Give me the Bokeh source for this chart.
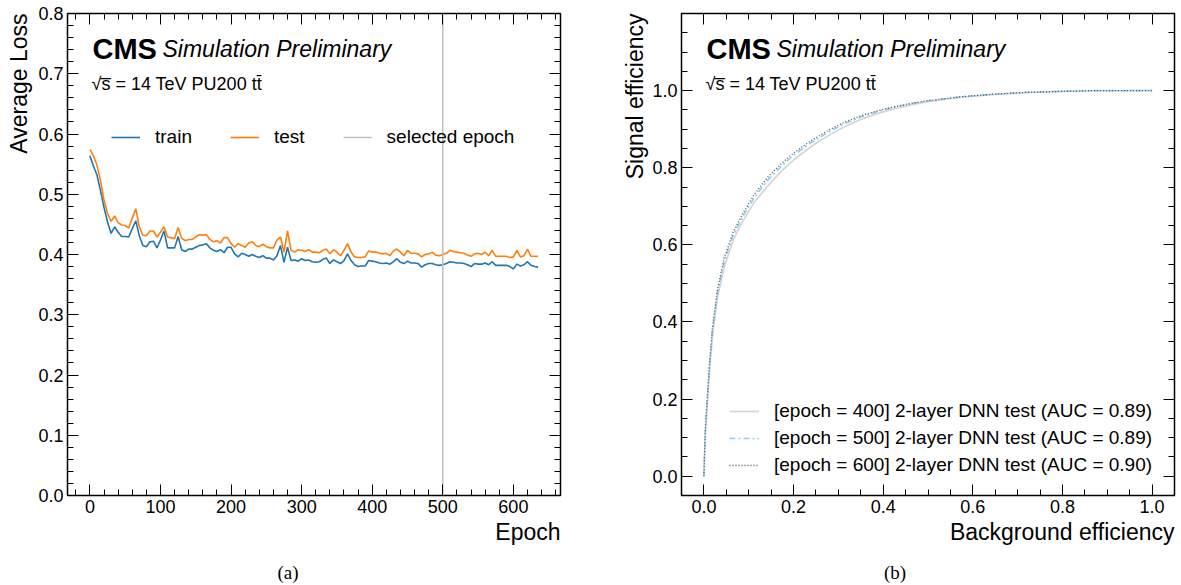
from bokeh.plotting import figure
from bokeh.models import (Range1d, LinearAxis, SingleIntervalTicker, PrintfTickFormatter,
                          CustomJSTickFormatter, Label, Legend, LegendItem, Div, Title)
from bokeh.layouts import row, column
from bokeh.embed import file_html
from bokeh.resources import INLINE

# ---------------- data: panel (a) ----------------
epochs = list(range(0, 640, 5))
train_loss = [
    0.564, 0.547, 0.532, 0.506, 0.478, 0.454, 0.435, 0.446, 0.437, 0.430,
    0.430, 0.429, 0.443, 0.456, 0.431, 0.415, 0.413, 0.421, 0.422, 0.411,
    0.424, 0.439, 0.411, 0.411, 0.411, 0.430, 0.408, 0.405, 0.409, 0.409,
    0.412, 0.415, 0.416, 0.418, 0.411, 0.407, 0.405, 0.408, 0.403, 0.412,
    0.412, 0.401, 0.396, 0.402, 0.400, 0.397, 0.400, 0.397, 0.395, 0.398,
    0.394, 0.394, 0.391, 0.398, 0.415, 0.387, 0.412, 0.390, 0.391, 0.389,
    0.393, 0.390, 0.391, 0.388, 0.387, 0.388, 0.392, 0.394, 0.385, 0.391,
    0.388, 0.385, 0.390, 0.401, 0.390, 0.383, 0.380, 0.381, 0.381, 0.390,
    0.389, 0.388, 0.386, 0.385, 0.386, 0.384, 0.388, 0.393, 0.387, 0.385,
    0.389, 0.386, 0.386, 0.385, 0.379, 0.383, 0.385, 0.385, 0.383, 0.382,
    0.383, 0.385, 0.388, 0.387, 0.386, 0.386, 0.385, 0.383, 0.380, 0.385,
    0.384, 0.384, 0.386, 0.383, 0.388, 0.382, 0.382, 0.382, 0.382, 0.380,
    0.376, 0.384, 0.381, 0.383, 0.388, 0.382, 0.380, 0.379,
]
test_loss = [
    0.574, 0.564, 0.548, 0.523, 0.490, 0.468, 0.455, 0.464, 0.453, 0.449,
    0.448, 0.444, 0.460, 0.476, 0.446, 0.432, 0.431, 0.439, 0.439, 0.429,
    0.437, 0.446, 0.429, 0.428, 0.426, 0.445, 0.427, 0.423, 0.425, 0.425,
    0.429, 0.433, 0.432, 0.433, 0.425, 0.421, 0.423, 0.419, 0.428, 0.428,
    0.418, 0.412, 0.418, 0.415, 0.412, 0.419, 0.421, 0.415, 0.413, 0.417,
    0.413, 0.411, 0.411, 0.424, 0.429, 0.404, 0.439, 0.407, 0.404, 0.408,
    0.407, 0.405, 0.408, 0.404, 0.404, 0.403, 0.407, 0.409, 0.401, 0.408,
    0.404, 0.398, 0.407, 0.418, 0.404, 0.396, 0.395, 0.395, 0.396, 0.406,
    0.404, 0.404, 0.402, 0.401, 0.402, 0.398, 0.406, 0.409, 0.404, 0.398,
    0.407, 0.402, 0.402, 0.401, 0.396, 0.400, 0.401, 0.404, 0.399, 0.398,
    0.400, 0.402, 0.407, 0.405, 0.404, 0.403, 0.402, 0.399, 0.397, 0.401,
    0.402, 0.400, 0.404, 0.398, 0.407, 0.397, 0.397, 0.397, 0.397, 0.395,
    0.396, 0.407, 0.396, 0.398, 0.409, 0.397, 0.397, 0.397,
]
selected_epoch = 500

# ---------------- data: panel (b) ----------------
bkg_eff = [0.0, 0.001, 0.003, 0.008, 0.013, 0.019, 0.030, 0.045, 0.065, 0.086,
           0.112, 0.142, 0.172, 0.202, 0.239, 0.276, 0.313, 0.351, 0.388, 0.425,
           0.462, 0.500, 0.537, 0.574, 0.648, 0.723, 0.797, 0.872, 1.0]
sig_eff_400 = [0.0, 0.033, 0.105, 0.190, 0.280, 0.360, 0.462, 0.540, 0.612, 0.660,
               0.710, 0.752, 0.790, 0.822, 0.855, 0.882, 0.906, 0.926, 0.941, 0.953,
               0.963, 0.971, 0.977, 0.983, 0.990, 0.995, 0.998, 0.9995, 1.0]
sig_eff_500 = [0.0, 0.037, 0.112, 0.205, 0.292, 0.376, 0.474, 0.556, 0.624, 0.672,
               0.722, 0.767, 0.803, 0.834, 0.865, 0.891, 0.914, 0.932, 0.946, 0.957,
               0.966, 0.973, 0.979, 0.984, 0.991, 0.9955, 0.998, 1.0, 1.0]
sig_eff_600 = [0.0, 0.040, 0.120, 0.213, 0.300, 0.386, 0.482, 0.565, 0.632, 0.680,
               0.730, 0.775, 0.810, 0.840, 0.870, 0.896, 0.918, 0.935, 0.948, 0.958,
               0.967, 0.974, 0.979, 0.984, 0.991, 0.9956, 0.998, 1.0, 1.0]
roc_labels = [
    "[epoch = 400] 2-layer DNN test (AUC = 0.89)",
    "[epoch = 500] 2-layer DNN test (AUC = 0.89)",
    "[epoch = 600] 2-layer DNN test (AUC = 0.90)",
]

SANS = "Liberation Sans"
SERIF = "Liberation Serif"


def style_axes(p, xint, xminor, yint, yminor, xfmt, yfmt, xlabel, ylabel, ystandoff):
    bottom = p.xaxis[0]
    left = p.yaxis[0]
    bottom.ticker = SingleIntervalTicker(interval=xint, num_minor_ticks=xminor)
    left.ticker = SingleIntervalTicker(interval=yint, num_minor_ticks=yminor)
    bottom.formatter = PrintfTickFormatter(format=xfmt)
    left.formatter = PrintfTickFormatter(format=yfmt)
    blank = CustomJSTickFormatter(code="return ''")
    top = LinearAxis(ticker=SingleIntervalTicker(interval=xint, num_minor_ticks=xminor),
                     formatter=blank, major_label_standoff=0)
    right = LinearAxis(ticker=SingleIntervalTicker(interval=yint, num_minor_ticks=yminor),
                       formatter=blank, major_label_standoff=0)
    p.add_layout(top, "above")
    p.add_layout(right, "right")
    for ax in (bottom, left, top, right):
        ax.axis_line_color = None
        ax.major_tick_in = 11
        ax.major_tick_out = 0
        ax.minor_tick_in = 6
        ax.minor_tick_out = 0
        ax.major_tick_line_color = "black"
        ax.minor_tick_line_color = "black"
        ax.major_tick_line_width = 1
        ax.minor_tick_line_width = 1
        ax.major_label_text_font = SANS
        ax.major_label_text_font_size = "18px"
        ax.major_label_text_color = "black"
    bottom.major_label_standoff = 4
    left.major_label_standoff = 4
    p.add_layout(Title(text=xlabel, align="right", standoff=2, text_font=SANS,
                       text_font_size="23px", text_font_style="normal",
                       text_color="black"), "below")
    p.add_layout(Title(text=ylabel, align="right", standoff=ystandoff, text_font=SANS,
                       text_font_size="23px", text_font_style="normal",
                       text_color="black"), "left")
    p.grid.visible = False
    p.outline_line_color = "black"
    p.outline_line_width = 1.5
    p.outline_line_alpha = 1.0


def lab(p, text, x, y, size, style="normal"):
    p.add_layout(Label(x=x, y=y, x_units="screen", y_units="screen", text=text,
                       text_font=SANS, text_font_size=size, text_font_style=style,
                       text_align="left", text_baseline="alphabetic", text_color="black"))


def cms_header(p):
    lab(p, "CMS", 25, 447, "29px", style="bold")
    lab(p, "Simulation Preliminary", 95, 447, "23px", style="italic")
    lab(p, "\u221as\u0305 = 14 TeV PU200 t\u0074\u0304", 24, 412, "18px")


def caption(text, pad_left):
    return Div(text=('<div style="width:500px;height:25px;line-height:16px;text-align:center;'
                     'font-family:\'Liberation Serif\';font-size:19px;color:black;'
                     'padding-left:%dpx;box-sizing:border-box">%s</div>') % (pad_left, text),
               width=500, height=25)


# ---------------- panel (a) ----------------
p1 = figure(width=600, height=560, output_backend="svg", toolbar_location=None,
            x_range=Range1d(-31.75, 666.75), y_range=Range1d(0.0, 0.8),
            min_border_left=66, min_border_right=40, min_border_top=13, min_border_bottom=65,
            background_fill_color="white", border_fill_color="white")
style_axes(p1, 100, 5, 0.1, 5, "%d", "%.1f", "Epoch", "Average Loss", 7)

r_train = p1.line(epochs, train_loss, line_color="#1f77b4", line_width=1.6)
r_test = p1.line(epochs, test_loss, line_color="#ff7f0e", line_width=1.6)
r_sel = p1.line([selected_epoch, selected_epoch], [p1.y_range.start, p1.y_range.end],
                line_color="#bfbfbf", line_width=1.5)

leg1 = Legend(items=[LegendItem(label="train", renderers=[r_train]),
                     LegendItem(label="test", renderers=[r_test]),
                     LegendItem(label="selected epoch", renderers=[r_sel])],
              orientation="horizontal", location=(44, 347),
              glyph_width=29, glyph_height=20, label_height=20, label_standoff=15,
              spacing=38, padding=0, margin=0,
              border_line_color=None, background_fill_alpha=0.0,
              label_text_font=SANS, label_text_font_size="19px", label_text_color="black")
p1.add_layout(leg1, "center")
cms_header(p1)

# ---------------- panel (b) ----------------
p2 = figure(width=581, height=560, output_backend="svg", toolbar_location=None,
            x_range=Range1d(-0.05, 1.05), y_range=Range1d(-0.05, 1.2),
            min_border_left=81, min_border_right=7, min_border_top=13, min_border_bottom=65,
            background_fill_color="white", border_fill_color="white")
style_axes(p2, 0.2, 4, 0.2, 4, "%.1f", "%.1f", "Background efficiency", "Signal efficiency", 4)

r400 = p2.line(bkg_eff, sig_eff_400, line_color="#d3d3d3", line_width=1.6)
r500 = p2.line(bkg_eff, sig_eff_500, line_color="#87cefa", line_width=1.6, line_dash="6 3 2 3")
r600 = p2.line(bkg_eff, sig_eff_600, line_color="#555555", line_width=1.3, line_dash="1 2")

leg2 = Legend(items=[LegendItem(label=roc_labels[0], renderers=[r400]),
                     LegendItem(label=roc_labels[1], renderers=[r500]),
                     LegendItem(label=roc_labels[2], renderers=[r600])],
              orientation="vertical", location=(48, 19),
              glyph_width=30, glyph_height=20, label_height=20, label_standoff=15,
              spacing=5, padding=0, margin=0,
              border_line_color=None, background_fill_alpha=0.0,
              label_text_font=SANS, label_text_font_size="19px", label_text_color="black")
p2.add_layout(leg2, "center")
cms_header(p2)

layout = row(column(p1, caption("(a)", 66)), column(p2, caption("(b)", 80)))
open("out.html", "w").write(file_html(layout, INLINE))
